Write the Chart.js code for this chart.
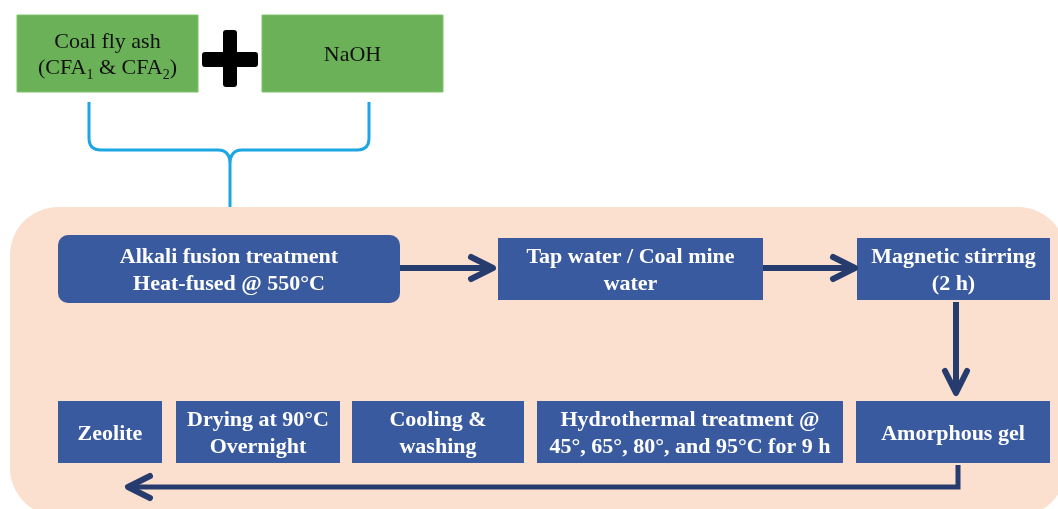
<!DOCTYPE html>
<html>
<head>
<meta charset="utf-8">
<script src="https://cdn.jsdelivr.net/npm/chart.js@4.4.1/dist/chart.umd.min.js"></script>
<style>
  html, body { margin: 0; padding: 0; background: #fff; }
  #wrap { width: 1058px; height: 509px; }
</style>
</head>
<body>
<div id="wrap"><canvas id="flowChart" width="1058" height="509"></canvas></div>
<script>
// Text of the flow chart ("_1" marks a subscript)
const inputLabels = [['Coal fly ash', '(CFA_1 & CFA_2)'], ['NaOH']];
const topSteps = [
    ['Alkali fusion treatment', 'Heat-fused @ 550°C'],
    ['Tap water / Coal mine', 'water'],
    ['Magnetic stirring', '(2 h)']
];
const bottomSteps = [
    ['Zeolite'],
    ['Drying at 90°C', 'Overnight'],
    ['Cooling &', 'washing'],
    ['Hydrothermal treatment @', '45°, 65°, 80°, and 95°C for 9 h'],
    ['Amorphous gel']
];

// Layout in chart units (x 0..1058, y 0..509 top-down)
const inputBoxes = [[17, 15, 198, 92], [262, 15, 443, 92]];
const topBoxes = [[58, 235, 400, 303, 10], [498, 238, 763, 300, 0], [857, 238, 1050, 300, 0]];
const bottomBoxes = [[58, 401, 162, 463], [176, 401, 340, 463], [352, 401, 524, 463], [537, 401, 843, 463], [856, 401, 1050, 463]];

const GREEN = '#6bb158';
const BLUE = '#3a5aa0';
const NAVY = '#263c6e';
const PEACH = '#fbdfcf';
const CYAN = '#1ca6e2';

function drawRich(ctx, str, cx, cy, size, bold, color) {
    const parts = str.split(/_(\d)/);
    const mainFont = (bold ? 'bold ' : '') + size + 'px "Liberation Serif", "Times New Roman", serif';
    const subFont = (bold ? 'bold ' : '') + Math.round(size * 0.65) + 'px "Liberation Serif", "Times New Roman", serif';
    let total = 0;
    parts.forEach((p, i) => {
        ctx.font = i % 2 ? subFont : mainFont;
        total += ctx.measureText(p).width;
    });
    let x = cx - total / 2;
    ctx.fillStyle = color;
    ctx.textBaseline = 'middle';
    ctx.textAlign = 'left';
    parts.forEach((p, i) => {
        ctx.font = i % 2 ? subFont : mainFont;
        ctx.fillText(p, x, cy + 2 + (i % 2 ? size * 0.3 : 0));
        x += ctx.measureText(p).width;
    });
}

const flowPlugin = {
    id: 'flow',
    afterDraw(chart) {
        const ctx = chart.ctx;
        const sx = chart.scales.x, sy = chart.scales.y;
        const X = v => sx.getPixelForValue(v);
        const Y = v => sy.getPixelForValue(v);

        function box(b, fill, stroke, r) {
            ctx.beginPath();
            ctx.roundRect(X(b[0]), Y(b[1]), X(b[2]) - X(b[0]), Y(b[3]) - Y(b[1]), r || 0);
            ctx.fillStyle = fill;
            ctx.fill();
            if (stroke) { ctx.strokeStyle = stroke; ctx.lineWidth = 1; ctx.stroke(); }
        }
        function label(b, lines, size, bold, color, gap) {
            const cx = (X(b[0]) + X(b[2])) / 2;
            const cy = (Y(b[1]) + Y(b[3])) / 2;
            const start = cy - (lines.length - 1) * gap / 2;
            lines.forEach((l, i) => drawRich(ctx, l, cx, start + i * gap, size, bold, color));
        }
        function polyline(pts, w, color) {
            ctx.beginPath();
            pts.forEach((p, i) => i ? ctx.lineTo(X(p[0]), Y(p[1])) : ctx.moveTo(X(p[0]), Y(p[1])));
            ctx.strokeStyle = color;
            ctx.lineWidth = w;
            ctx.lineJoin = 'miter';
            ctx.lineCap = 'butt';
            ctx.stroke();
        }
        function chevron(tip, dir, w) {
            // dir: unit vector of arrow direction
            const [tx, ty] = tip;
            const back = 22, half = 11;
            const bx = tx - dir[0] * back, by = ty - dir[1] * back;
            const nx = -dir[1] * half, ny = dir[0] * half;
            ctx.beginPath();
            ctx.moveTo(X(bx + nx), Y(by + ny));
            ctx.lineTo(X(tx), Y(ty));
            ctx.lineTo(X(bx - nx), Y(by - ny));
            ctx.strokeStyle = NAVY;
            ctx.lineWidth = w;
            ctx.lineCap = 'round';
            ctx.lineJoin = 'round';
            ctx.stroke();
        }

        // peach panel
        ctx.beginPath();
        ctx.roundRect(X(10), Y(207), X(1066) - X(10), Y(516) - Y(207), 48);
        ctx.fillStyle = PEACH;
        ctx.fill();

        // brace
        ctx.beginPath();
        ctx.moveTo(X(89), Y(102));
        ctx.lineTo(X(89), Y(138));
        ctx.quadraticCurveTo(X(89), Y(150), X(101), Y(150));
        ctx.lineTo(X(218), Y(150));
        ctx.quadraticCurveTo(X(230), Y(150), X(230), Y(164));
        ctx.lineTo(X(230), Y(207));
        ctx.moveTo(X(369), Y(102));
        ctx.lineTo(X(369), Y(138));
        ctx.quadraticCurveTo(X(369), Y(150), X(357), Y(150));
        ctx.lineTo(X(242), Y(150));
        ctx.quadraticCurveTo(X(230), Y(150), X(230), Y(164));
        ctx.strokeStyle = CYAN;
        ctx.lineWidth = 3;
        ctx.lineJoin = 'round';
        ctx.stroke();

        // input boxes
        inputBoxes.forEach((b, i) => {
            box(b, GREEN, '#7fc36a');
            label(b, inputLabels[i], 22, false, '#111', 26);
        });

        // plus sign
        ctx.fillStyle = '#000';
        ctx.beginPath();
        ctx.roundRect(X(223), Y(30), X(237) - X(223), Y(87) - Y(30), 3);
        ctx.roundRect(X(202), Y(52), X(258) - X(202), Y(67) - Y(52), 3);
        ctx.fill();

        // process boxes
        topBoxes.forEach((b, i) => {
            box(b, BLUE, null, b[4]);
            label(b, topSteps[i], 22, true, '#fff', 27);
        });
        bottomBoxes.forEach((b, i) => {
            box(b, BLUE, null, 0);
            label(b, bottomSteps[i], 22, true, '#fff', 27);
        });

        // arrows
        polyline([[400, 268], [490, 268]], 6, NAVY);
        chevron([493, 268], [1, 0], 6);
        polyline([[763, 268], [851, 268]], 6, NAVY);
        chevron([855, 268], [1, 0], 6);
        polyline([[956, 302], [956, 390]], 6, NAVY);
        chevron([956, 393], [0, 1], 6);
        polyline([[958, 465], [958, 487], [132, 487]], 5, NAVY);
        chevron([128, 487], [-1, 0], 6);
    }
};

const chart = new Chart(document.getElementById('flowChart').getContext('2d'), {
    type: 'scatter',
    data: { datasets: [] },
    options: {
        responsive: false,
        animation: false,
        layout: { padding: 0 },
        plugins: { legend: { display: false }, tooltip: { enabled: false } },
        scales: {
            x: { type: 'linear', min: 0, max: 1058, display: false },
            y: { type: 'linear', min: 0, max: 509, reverse: true, display: false }
        }
    },
    plugins: [flowPlugin]
});
</script>
</body>
</html>
